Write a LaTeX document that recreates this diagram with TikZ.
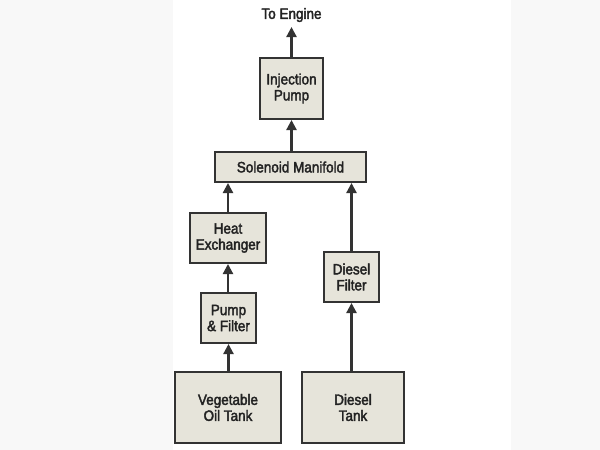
\documentclass[tikz,border=0pt]{standalone}
\usepackage{fontspec}
\setmainfont{Liberation Sans}[FakeStretch=0.9, FakeBold=2.5]
\usetikzlibrary{arrows.meta}
\definecolor{boxfill}{HTML}{E6E4DA}
\definecolor{boxline}{HTML}{333333}
\definecolor{sidegrey}{HTML}{F8F8F8}
\definecolor{txt}{HTML}{222222}
\tikzset{
  blk/.style={draw=boxline, line width=2pt, fill=boxfill, align=center, inner sep=2pt,
    font=\fontsize{15}{16}\selectfont, text=txt},
  arr/.style={draw=boxline, line width=2.2pt, -{Triangle[length=10pt,width=10pt]}},
}
\begin{document}
\begin{tikzpicture}[x=1pt,y=-1pt]
\useasboundingbox (0,0) rectangle (600,450);
\fill[white] (0,0) rectangle (600,450);
\fill[sidegrey] (0,0) rectangle (173,450);
\fill[sidegrey] (511,0) rectangle (600,450);

\node[blk, minimum width=63pt, minimum height=61pt] (pump) at (291.5,88.5) {Injection\\Pump};
\node[blk, minimum width=151pt, minimum height=30pt] (man) at (290.5,167) {Solenoid Manifold};
\node[blk, minimum width=76pt, minimum height=50pt] (hx) at (228,238) {Heat\\Exchanger};
\node[blk, minimum width=55pt, minimum height=50pt] (pf) at (228.5,318) {Pump\\\&~Filter};
\node[blk, minimum width=106pt, minimum height=71pt] (veg) at (228,407.5) {Vegetable\\Oil Tank};
\node[blk, minimum width=55pt, minimum height=50pt] (df) at (351.5,277) {Diesel\\Filter};
\node[blk, minimum width=102pt, minimum height=71pt] (dt) at (353,407.5) {Diesel\\Tank};
\node[font=\fontsize{15}{16}\selectfont, text=txt, inner sep=0pt] (eng) at (291.5,15) {To Engine};
\coordinate (engtip) at (291.5,27);

\draw[arr] (pump.north) -- (engtip);
\draw[arr] (man.north -| pump.south) -- (pump.south);
\draw[arr] (hx.north) -- (hx.north |- man.south);
\draw[arr] (df.north) -- (df.north |- man.south);
\draw[arr] (pf.north -| hx.south) -- (hx.south);
\draw[arr] (veg.north -| pf.south) -- (pf.south);
\draw[arr] (dt.north -| df.south) -- (df.south);
\end{tikzpicture}
\end{document}
